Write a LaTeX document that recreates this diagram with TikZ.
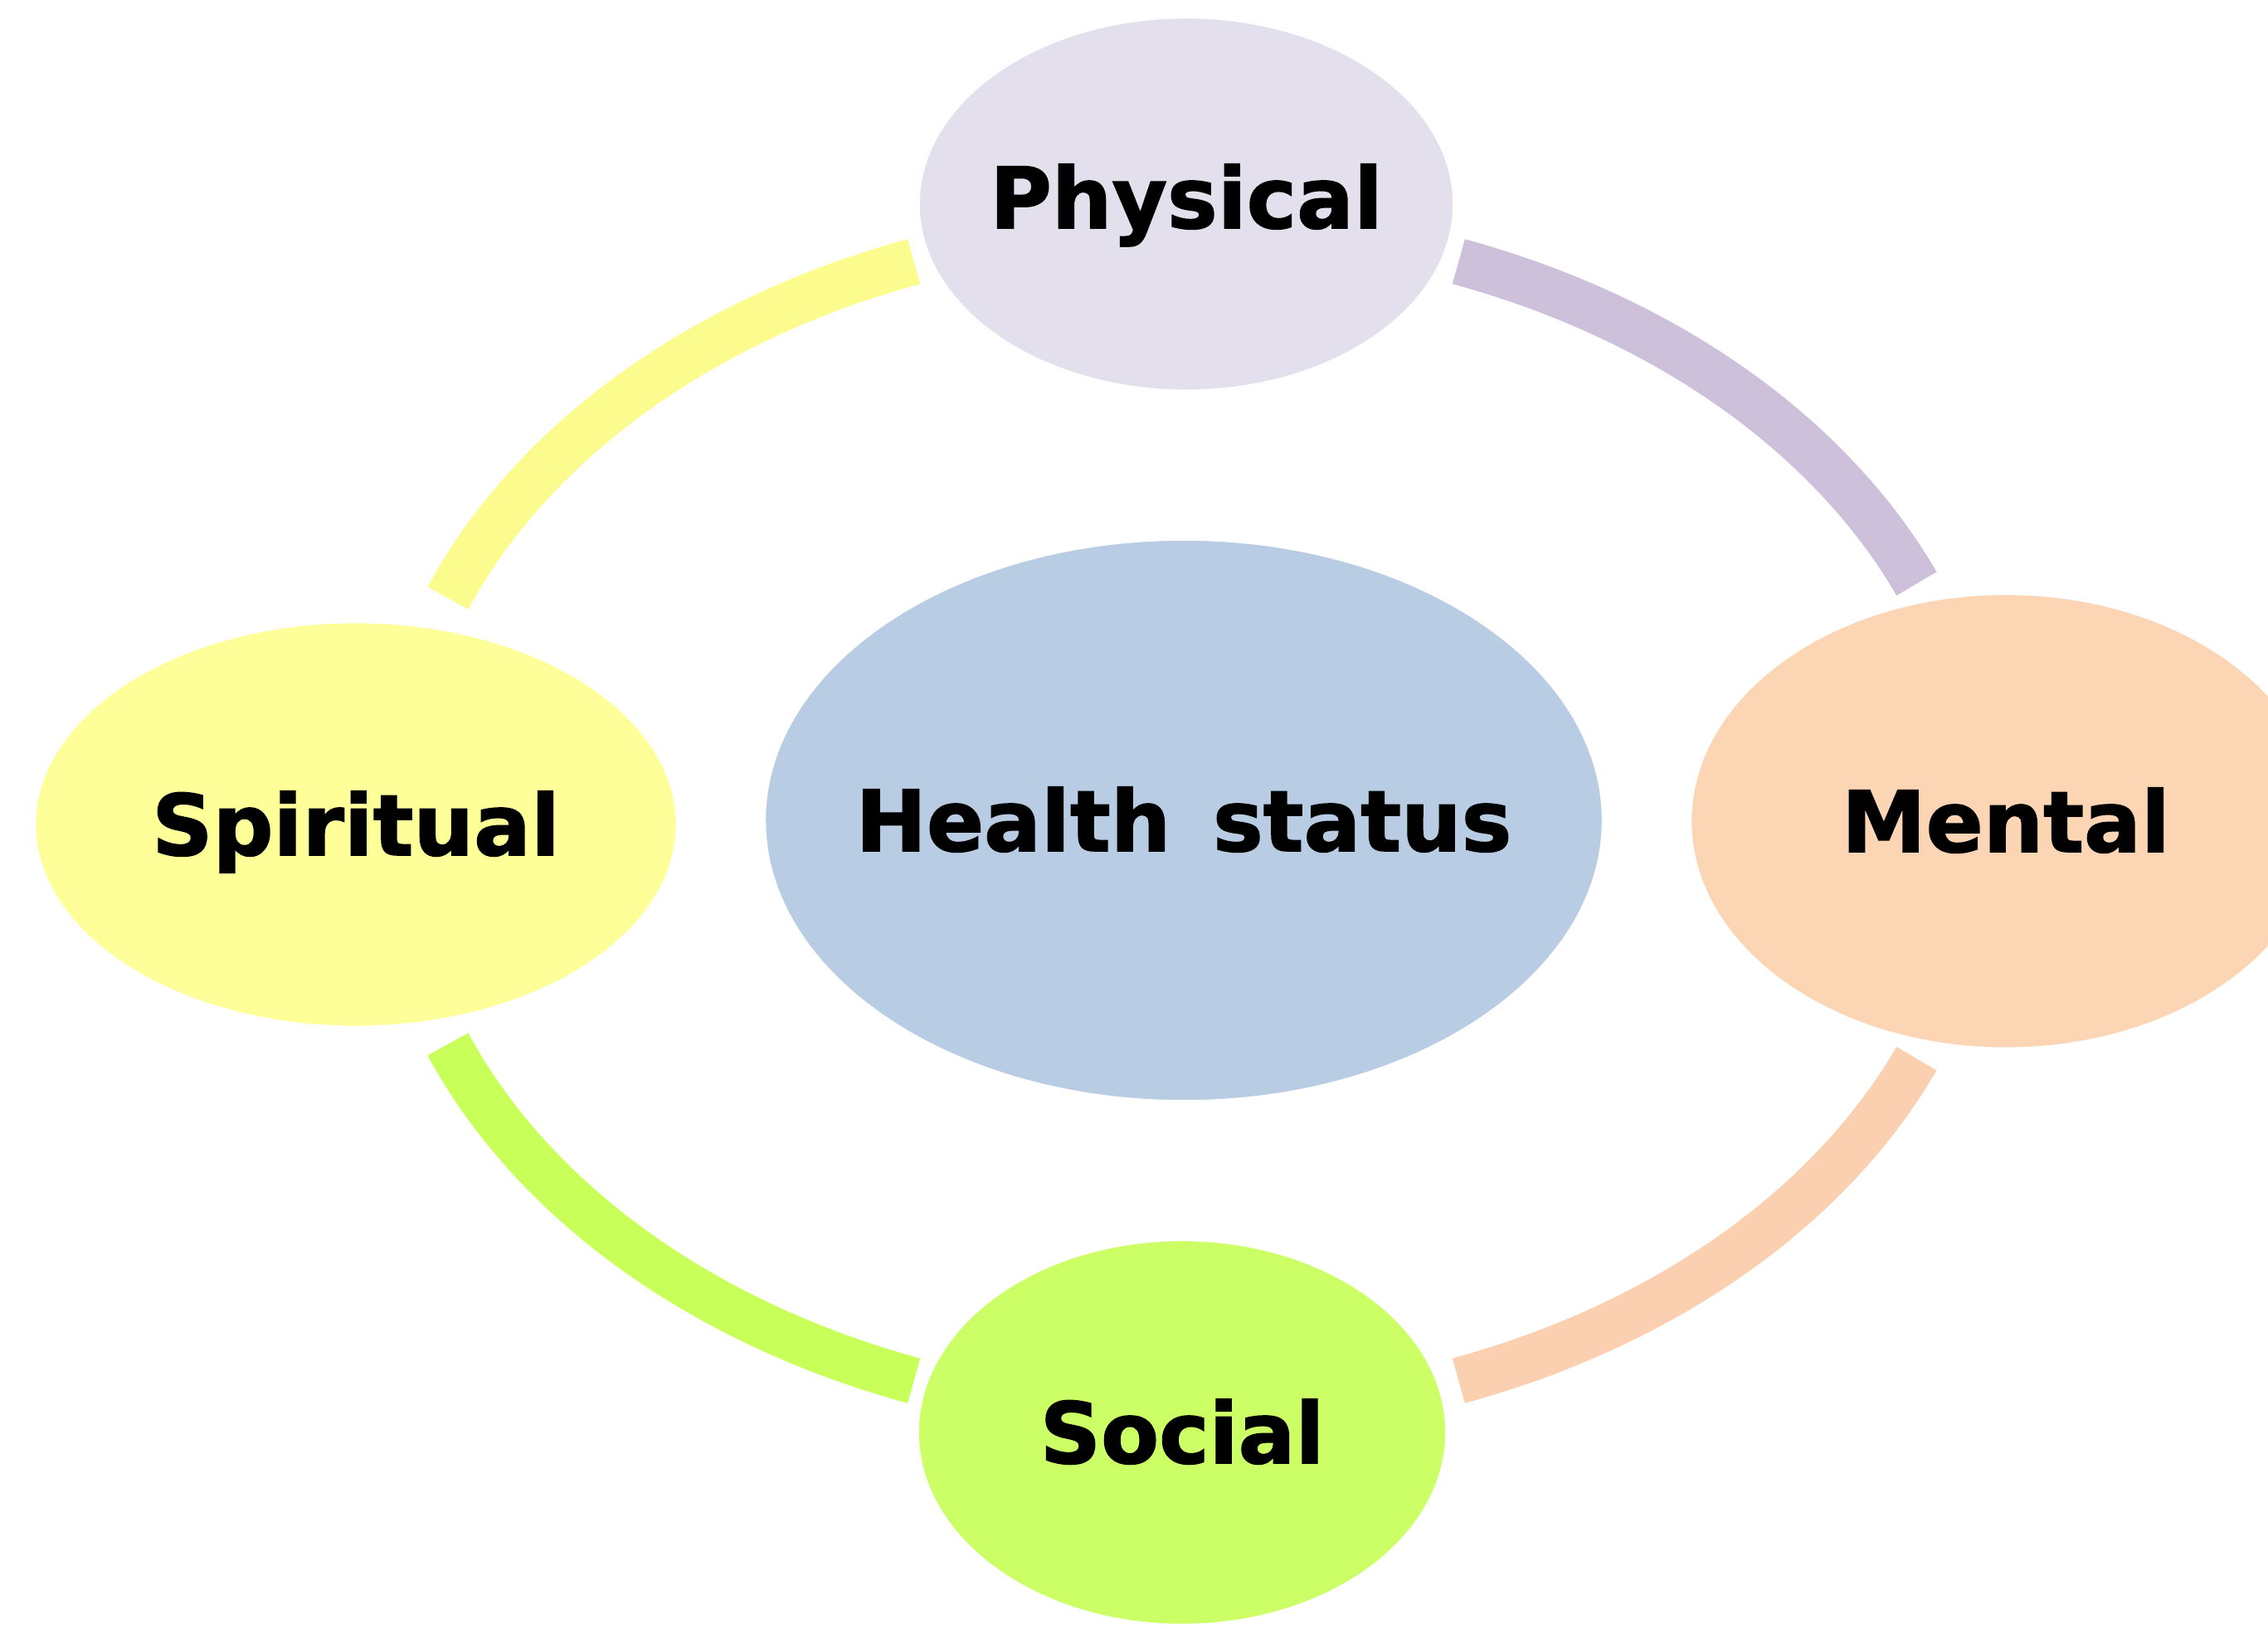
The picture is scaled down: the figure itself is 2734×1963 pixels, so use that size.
\documentclass[tikz,border=0pt]{standalone}
\usepackage{fontspec}
\newfontfamily\lblfont{DejaVu Sans}[BoldFeatures={FakeBold=1.5}]
\usetikzlibrary{shapes.geometric}
\definecolor{physfill}{HTML}{E4DFEC}
\definecolor{lavband}{HTML}{CCC0DA}
\definecolor{spirfill}{HTML}{FFFF99}
\definecolor{yelband}{HTML}{FCFC8E}
\definecolor{healthfill}{HTML}{B8CCE4}
\definecolor{mentfill}{HTML}{FCD5B4}
\definecolor{peachband}{HTML}{FAD0B0}
\definecolor{socfill}{HTML}{CCFF66}
\definecolor{greenband}{HTML}{C8FF58}
\newcommand{\lbltext}[1]{\makebox[0pt]{#1}}
\tikzset{
  ringband/.style={line width=0.56cm},
  blob/.style={ellipse, draw=white, line width=0.1cm, inner sep=0pt,
    text height=0.74cm, text depth=0pt,
    font=\lblfont\bfseries\fontsize{29}{31}\selectfont, text=black}
}
\begin{document}
\begin{tikzpicture}[x=0.01cm, y=-0.01cm]
\useasboundingbox (0,0) rectangle (2734,1963);
% ring segments (ellipse centre 1430,990; radii 960 x 718)
\draw[ringband, draw=lavband] plot[domain=-70:-23.5, samples=40, smooth] ({1430+960*cos(\x)},{990+718*sin(\x)});
\draw[ringband, draw=yelband] plot[domain=-110:-158, samples=40, smooth] ({1430+960*cos(\x)},{990+718*sin(\x)});
\draw[ringband, draw=peachband] plot[domain=23.5:70, samples=40, smooth] ({1430+960*cos(\x)},{990+718*sin(\x)});
\draw[ringband, draw=greenband] plot[domain=110:158, samples=40, smooth] ({1430+960*cos(\x)},{990+718*sin(\x)});
% nodes
\node[blob, fill=physfill, minimum width=6.52cm, minimum height=4.57cm] (phys) at (1430,246) {\lbltext{\raisebox{0.08cm}{Physical}}};
\node[blob, fill=spirfill, minimum width=7.81cm, minimum height=4.95cm] (spir) at (429,994) {\lbltext{Spiritual}};
\node[blob, fill=healthfill, minimum width=10.17cm, minimum height=6.84cm] (health) at (1427,989) {\lbltext{Health\hspace{0.15em} status}};
\node[blob, fill=mentfill, minimum width=7.67cm, minimum height=5.55cm] (ment) at (2418,990) {\lbltext{Mental}};
\node[blob, fill=socfill, minimum width=6.44cm, minimum height=4.71cm] (soc) at (1425,1727) {\lbltext{Social}};
\end{tikzpicture}
\end{document}
